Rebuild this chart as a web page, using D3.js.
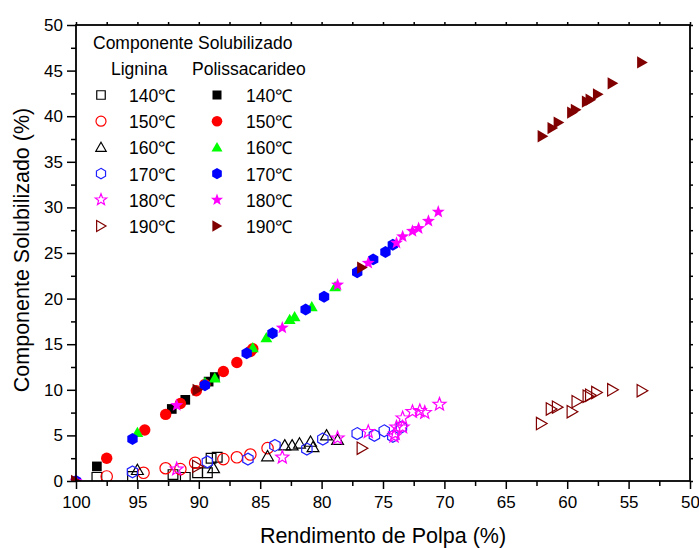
<!DOCTYPE html>
<html>
<head>
<meta charset="utf-8">
<script src="https://cdn.jsdelivr.net/npm/d3@7"></script>
<style>
  html, body { margin: 0; padding: 0; background: #fff; }
  svg { display: block; font-family: "Liberation Sans", Arial, sans-serif; }
</style>
</head>
<body>
<svg id="chart" width="699" height="548"></svg>
<script>
// Temperatures of the treatments
const temperatures = ["140℃", "150℃", "160℃", "170℃", "180℃", "190℃"];
const openColors = ["#000000", "#ff0000", "#000000", "#2020ff", "#ff00ff", "#800000"];
const filledColors = ["#000000", "#ff0000", "#00ff00", "#0000ff", "#ff00ff", "#800000"];
const shapes = ["square", "circle", "triangle", "hexagon", "star", "triangleRight"];

// Lignina solubilizada: [rendimento de polpa (%), componente solubilizado (%)]
const lignina140 = [[98.3,0.4],[95.4,0.5],[92.1,0.7],[91.1,0.4],[90.1,0.9],[89.3,0.9],[89.0,2.5],[88.5,2.6]];
const lignina150 = [[97.5,0.5],[94.5,0.9],[92.7,1.4],[91.5,1.3],[90.3,2.0],[88.0,2.4],[86.9,2.6],[85.8,2.9],[84.4,3.6]];
const lignina160 = [[95.0,1.2],[88.8,1.4],[84.4,2.7],[83.0,3.9],[82.4,3.9],[81.8,4.1],[80.9,4.3],[80.7,3.7],[79.6,5.0],[78.7,4.5]];
const lignina170 = [[95.4,1.0],[89.3,2.1],[86.0,2.4],[83.8,3.9],[81.2,3.5],[79.9,4.6],[77.1,5.2],[75.7,5.0],[74.9,5.5],[74.2,4.9],[73.5,5.9]];
const lignina180 = [[91.8,1.3],[83.2,2.6],[78.7,4.7],[76.2,5.4],[74.1,4.9],[74.0,5.2],[73.9,5.9],[73.4,5.9],[73.4,6.9],[72.6,7.6],[72.0,7.7],[71.6,7.5],[70.4,8.4]];
const lignina190 = [[90.1,1.6],[76.7,3.6],[62.1,6.3],[61.3,7.9],[60.8,8.1],[59.6,7.6],[59.2,8.7],[58.3,9.3],[58.1,9.4],[57.6,9.7],[56.3,10.0],[53.9,9.9]];

// Polissacarideo solubilizado
const polis140 = [[98.3,1.6],[92.2,7.9],[91.1,8.9],[89.2,10.9],[88.7,11.4]];
const polis150 = [[97.5,2.5],[94.4,5.6],[92.7,7.3],[91.5,8.5],[90.2,9.9],[89.5,10.6],[88.0,12.0],[86.9,13.0],[85.8,14.2],[85.6,14.5]];
const polis160 = [[95.0,5.3],[89.5,10.8],[88.7,11.3],[85.6,14.6],[84.5,15.7],[82.6,17.7],[82.2,18.0],[80.8,19.1],[78.9,21.3]];
const polis170 = [[100,0],[95.4,4.6],[89.5,10.5],[86.1,14.0],[84.0,16.2],[81.3,18.8],[79.8,20.2],[77.1,22.9],[75.8,24.3],[74.8,25.1],[74.2,25.9]];
const polis180 = [[100,0],[91.8,8.3],[83.2,16.8],[78.7,21.5],[76.2,23.9],[73.9,26.1],[73.4,26.8],[72.6,27.4],[72.1,27.7],[71.3,28.5],[70.5,29.5]];
const polis190 = [[100,0],[90.1,10.0],[76.7,23.4],[62.0,37.8],[61.2,38.7],[60.7,39.3],[59.6,40.4],[59.3,40.7],[58.4,41.6],[58.1,41.8],[57.5,42.4],[56.3,43.6],[53.9,45.9]];

const ligninaSeries = [lignina140, lignina150, lignina160, lignina170, lignina180, lignina190];
const polisSeries = [polis140, polis150, polis160, polis170, polis180, polis190];

const xMajor = [100, 95, 90, 85, 80, 75, 70, 65, 60, 55, 50];
const xMinor = [97.5, 92.5, 87.5, 82.5, 77.5, 72.5, 67.5, 62.5, 57.5, 52.5];
const yMajor = [0, 5, 10, 15, 20, 25, 30, 35, 40, 45, 50];
const yMinor = [2.5, 7.5, 12.5, 17.5, 22.5, 27.5, 32.5, 37.5, 42.5, 47.5];

const svg = d3.select("#chart");
const plotL = 76, plotR = 690, plotT = 25, plotB = 481;

const x = d3.scaleLinear().domain([100, 50]).range([plotL, plotR]);
const y = d3.scaleLinear().domain([0, 50]).range([plotB, plotT]);

// Marker path centred at the origin
function markerPath(shape, r) {
  const p = d3.path();
  if (shape === "square") {
    const s = r * 0.85;
    p.rect(-s, -s, 2 * s, 2 * s);
  } else if (shape === "circle") {
    p.arc(0, 0, r, 0, 2 * Math.PI);
  } else if (shape === "triangle") {
    const R = r * 1.2;
    p.moveTo(0, -R + R * 0.15);
    p.lineTo(R * 0.866, R * 0.5 + R * 0.15);
    p.lineTo(-R * 0.866, R * 0.5 + R * 0.15);
  } else if (shape === "triangleRight") {
    const R = r * 1.25;
    p.moveTo(R - R * 0.2, 0);
    p.lineTo(-R * 0.5 - R * 0.2, R * 0.866);
    p.lineTo(-R * 0.5 - R * 0.2, -R * 0.866);
  } else if (shape === "hexagon") {
    const R = r * 1.05;
    for (let k = 0; k < 6; k++) {
      const a = -Math.PI / 2 + k * Math.PI / 3;
      if (k === 0) p.moveTo(R * Math.cos(a), R * Math.sin(a));
      else p.lineTo(R * Math.cos(a), R * Math.sin(a));
    }
  } else if (shape === "star") {
    const Ro = r * 1.2, Ri = Ro * 0.42;
    for (let k = 0; k < 10; k++) {
      const a = -Math.PI / 2 + k * Math.PI / 5;
      const rr = k % 2 === 0 ? Ro : Ri;
      if (k === 0) p.moveTo(rr * Math.cos(a), rr * Math.sin(a));
      else p.lineTo(rr * Math.cos(a), rr * Math.sin(a));
    }
  }
  p.closePath();
  return p.toString();
}

svg.append("defs").append("clipPath").attr("id", "plotClip")
  .append("rect").attr("x", 0).attr("y", 0).attr("width", 699).attr("height", plotB);

const marks = svg.append("g").attr("clip-path", "url(#plotClip)");
const R = 5.7;

temperatures.forEach((t, i) => {
  // Lignina: open markers
  marks.append("g").selectAll("path").data(ligninaSeries[i]).join("path")
    .attr("transform", d => `translate(${x(d[0])},${y(d[1])})`)
    .attr("d", markerPath(shapes[i], R))
    .attr("fill", "none")
    .attr("stroke", openColors[i])
    .attr("stroke-width", 1.2);
});
temperatures.forEach((t, i) => {
  // Polissacarideo: filled markers
  marks.append("g").selectAll("path").data(polisSeries[i]).join("path")
    .attr("transform", d => `translate(${x(d[0])},${y(d[1])})`)
    .attr("d", markerPath(shapes[i], R))
    .attr("fill", filledColors[i])
    .attr("stroke", "none");
});

// Axes
const tickFont = 17;
function styleAxis(g) {
  g.select(".domain").remove();
  g.selectAll("line").attr("stroke", "#000").attr("stroke-width", 1.5);
  g.selectAll("text").attr("font-size", tickFont).attr("fill", "#000")
    .attr("font-family", '"Liberation Sans", Arial, sans-serif');
}

svg.append("g").attr("transform", `translate(0,${plotB})`)
  .call(d3.axisBottom(x).tickValues(xMajor).tickSize(8).tickPadding(7).tickFormat(d3.format("d")))
  .call(styleAxis);
svg.append("g").attr("transform", `translate(0,${plotB})`)
  .call(d3.axisBottom(x).tickValues(xMinor).tickSize(5).tickFormat(""))
  .call(styleAxis);
svg.append("g").attr("transform", `translate(0,${plotT})`)
  .call(d3.axisTop(x).tickValues(xMajor.concat(xMinor)).tickSize(3).tickFormat(""))
  .call(styleAxis);

svg.append("g").attr("transform", `translate(${plotL},0)`)
  .call(d3.axisLeft(y).tickValues(yMajor).tickSize(9).tickPadding(4).tickFormat(d3.format("d")))
  .call(styleAxis);
svg.append("g").attr("transform", `translate(${plotL},0)`)
  .call(d3.axisLeft(y).tickValues(yMinor).tickSize(5).tickFormat(""))
  .call(styleAxis);
svg.append("g").attr("transform", `translate(${plotR},0)`)
  .call(d3.axisRight(y).tickValues(yMajor.concat(yMinor)).tickSize(3).tickFormat(""))
  .call(styleAxis);

// Frame
svg.append("rect")
  .attr("x", plotL).attr("y", plotT)
  .attr("width", plotR - plotL).attr("height", plotB - plotT)
  .attr("fill", "none").attr("stroke", "#000").attr("stroke-width", 1.8);

// Axis titles
svg.append("text")
  .attr("x", 383).attr("y", 543)
  .attr("text-anchor", "middle").attr("font-size", 21.5)
  .text("Rendimento de Polpa (%)");
svg.append("text")
  .attr("transform", `translate(29,250) rotate(-90)`)
  .attr("text-anchor", "middle").attr("font-size", 21.5)
  .text("Componente Solubilizado (%)");

// Legend
const legend = svg.append("g");
const legFont = 17.5;
legend.append("text").attr("x", 93).attr("y", 49).attr("font-size", legFont)
  .text("Componente Solubilizado");
legend.append("text").attr("x", 111).attr("y", 75).attr("font-size", legFont).text("Lignina");
legend.append("text").attr("x", 192).attr("y", 75).attr("font-size", legFont).text("Polissacarideo");

const rowY = d3.scaleLinear().domain([0, 5]).range([102, 233]);
temperatures.forEach((t, i) => {
  const by = rowY(i);
  legend.append("path")
    .attr("transform", `translate(101,${by - 7})`)
    .attr("d", markerPath(shapes[i], 5))
    .attr("fill", "none").attr("stroke", openColors[i]).attr("stroke-width", 1.2);
  legend.append("text").attr("x", 129).attr("y", by).attr("font-size", legFont).text(t);
  legend.append("path")
    .attr("transform", `translate(217,${by - 7})`)
    .attr("d", markerPath(shapes[i], 5.3))
    .attr("fill", filledColors[i]);
  legend.append("text").attr("x", 246).attr("y", by).attr("font-size", legFont).text(t);
});
</script>
</body>
</html>
